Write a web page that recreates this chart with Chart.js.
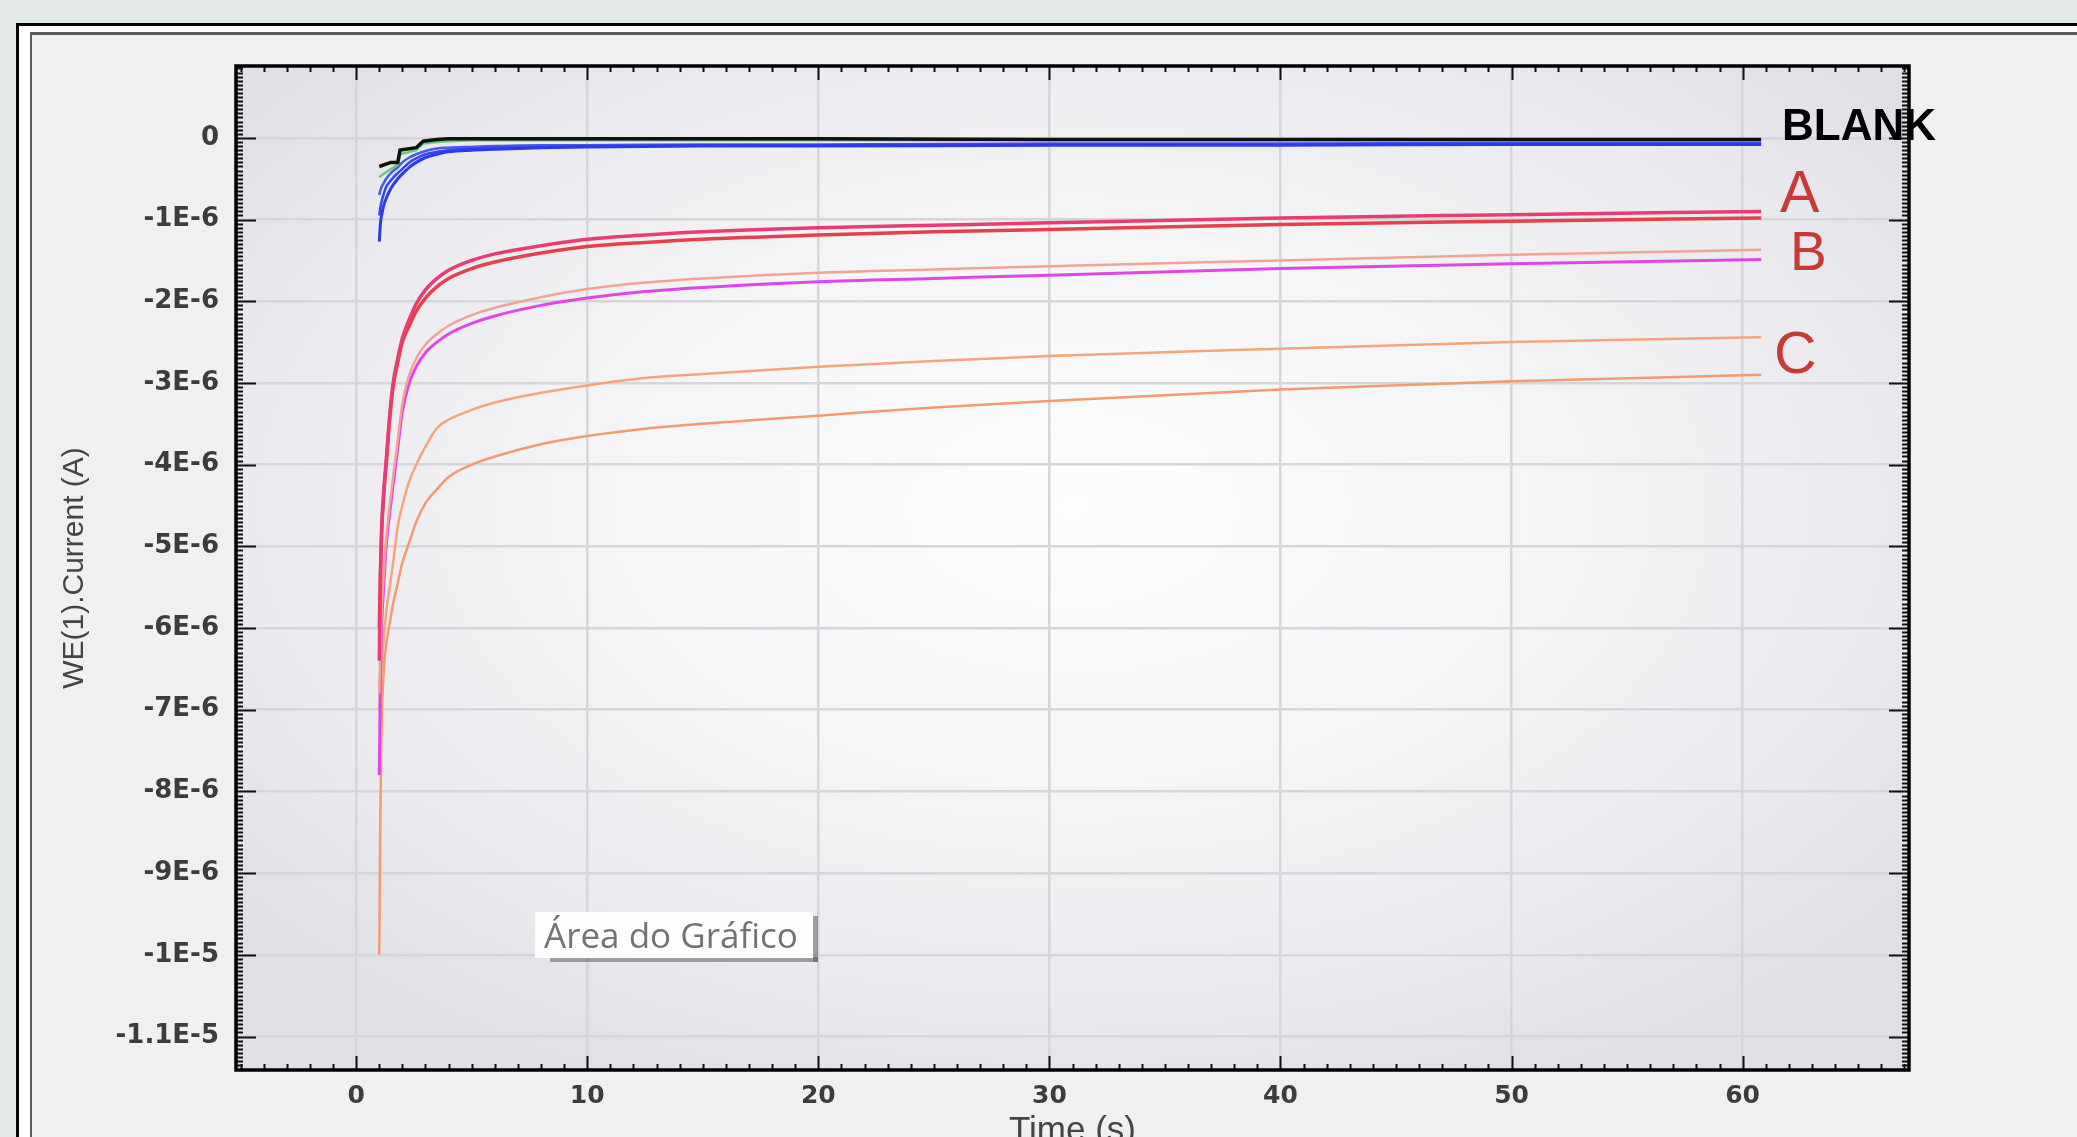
<!DOCTYPE html>
<html><head><meta charset="utf-8">
<style>
html,body{margin:0;padding:0;overflow:hidden;background:#e3e9e9;width:2077px;height:1137px}
#wrap{position:absolute;left:0;top:0;width:2077px;height:1160px}
</style>
<script src="https://cdn.jsdelivr.net/npm/chart.js@4.4.1/dist/chart.umd.min.js"></script>
</head><body><div id="wrap"><canvas id="c" width="2077" height="1160"></canvas></div>
<script>
// ---- data (current values in microamps, time in seconds) ----
const timeBlank = [1, 1.5, 1.8, 1.9, 2.6, 2.9, 3.5, 4, 5, 8, 12, 20, 30, 40, 50, 60.8];
const blankBlack = [-0.35, -0.3, -0.3, -0.15, -0.12, -0.04, -0.02, -0.01, -0.01, -0.01, -0.01, -0.01, -0.02, -0.02, -0.02, -0.02];
const blankGreen = [-0.48, -0.38, -0.33, -0.2, -0.15, -0.07, -0.05, -0.04, -0.03, -0.03, -0.03, -0.03, -0.03, -0.03, -0.03, -0.03];

const timeBlue = [1, 1.05, 1.1, 1.2, 1.3, 1.5, 1.8, 2, 2.3, 2.6, 3, 3.5, 4, 5, 6, 8, 10, 15, 20, 30, 40, 50, 60.8];
const blue1 = [-1.27, -1.05, -0.95, -0.82, -0.74, -0.62, -0.5, -0.44, -0.36, -0.3, -0.24, -0.2, -0.17, -0.15, -0.14, -0.12, -0.11, -0.1, -0.1, -0.09, -0.09, -0.08, -0.08];
const blue2 = [-0.95, -0.85, -0.78, -0.68, -0.6, -0.52, -0.43, -0.38, -0.3, -0.25, -0.2, -0.17, -0.15, -0.13, -0.12, -0.11, -0.1, -0.09, -0.09, -0.08, -0.08, -0.07, -0.07];
const blue3 = [-0.7, -0.64, -0.6, -0.55, -0.5, -0.43, -0.36, -0.3, -0.24, -0.2, -0.16, -0.13, -0.12, -0.11, -0.1, -0.09, -0.09, -0.08, -0.08, -0.07, -0.07, -0.06, -0.06];

const timeS = [1, 1.05, 1.1, 1.2, 1.3, 1.45, 1.6, 1.8, 2, 2.3, 2.6, 3, 3.5, 4, 5, 6, 8, 10, 12.5, 15, 20, 25, 30, 40, 50, 60.8];
const seriesA1 = [-6.4, -5.4, -4.8, -4.3, -3.95, -3.4, -3.0, -2.7, -2.45, -2.22, -2.03, -1.86, -1.72, -1.62, -1.5, -1.42, -1.32, -1.24, -1.19, -1.15, -1.1, -1.07, -1.04, -0.98, -0.94, -0.9];
const seriesA2 = [-6.0, -5.3, -4.85, -4.35, -4.0, -3.45, -3.05, -2.75, -2.5, -2.3, -2.12, -1.96, -1.82, -1.72, -1.6, -1.52, -1.41, -1.33, -1.28, -1.24, -1.19, -1.15, -1.12, -1.06, -1.02, -0.98];
const seriesB1 = [-6.8, -6.2, -5.8, -5.3, -4.9, -4.5, -4.15, -3.7, -3.25, -2.9, -2.7, -2.53, -2.4, -2.3, -2.17, -2.08, -1.95, -1.85, -1.77, -1.72, -1.65, -1.61, -1.57, -1.5, -1.43, -1.37];
const seriesB2 = [-7.8, -6.6, -6.0, -5.45, -5.0, -4.6, -4.25, -3.8, -3.35, -3.0, -2.8, -2.63, -2.5, -2.4, -2.27, -2.18, -2.05, -1.96, -1.88, -1.83, -1.76, -1.72, -1.68, -1.6, -1.54, -1.49];
const seriesC1 = [-7.0, -6.7, -6.45, -6.1, -5.8, -5.5, -5.2, -4.75, -4.5, -4.2, -4.0, -3.78, -3.55, -3.45, -3.33, -3.24, -3.12, -3.03, -2.94, -2.89, -2.8, -2.73, -2.67, -2.58, -2.5, -2.44];
const seriesC2 = [-10.0, -8.2, -7.2, -6.5, -6.2, -5.95, -5.7, -5.45, -5.2, -4.95, -4.7, -4.47, -4.3, -4.15, -4.0, -3.9, -3.75, -3.65, -3.56, -3.5, -3.4, -3.3, -3.22, -3.08, -2.98, -2.9];

const xTickValues = [0, 10, 20, 30, 40, 50, 60];
const xTickLabels = ['0', '10', '20', '30', '40', '50', '60'];
const yTickValues = [0, -1e-6, -2e-6, -3e-6, -4e-6, -5e-6, -6e-6, -7e-6, -8e-6, -9e-6, -1e-5, -1.1e-5];
const yTickLabels = ['0', '-1E-6', '-2E-6', '-3E-6', '-4E-6', '-5E-6', '-6E-6', '-7E-6', '-8E-6', '-9E-6', '-1E-5', '-1.1E-5'];
const groupLabels = ['BLANK', 'A', 'B', 'C'];
const xTitle = 'Time (s)';
const yTitle = 'WE(1).Current (A)';
const overlayText = 'Área do Gráfico';

// ---- helpers ----
const UA = 1e-6;
function pts(t, v) { return t.map((x, i) => ({ x: x, y: v[i] * UA })); }
function ds(t, v, color, w, smooth) {
  return { data: pts(t, v), borderColor: color, borderWidth: w, pointRadius: 0,
    fill: false, tension: 0, cubicInterpolationMode: smooth ? 'monotone' : 'default' };
}

const datasets = [
  ds(timeBlank, blankBlack, '#111111', 3.5, false),
  ds(timeBlank, blankGreen, '#62cf70', 2.5, false),
  ds(timeBlue, blue1, '#2c3ae8', 3, true),
  ds(timeBlue, blue2, '#3546ee', 2.5, true),
  ds(timeBlue, blue3, '#4558f0', 2.5, true),
  ds(timeS, seriesA1, '#e83c72', 3.5, true),
  ds(timeS, seriesA2, '#e4414c', 3.5, true),
  ds(timeS, seriesB1, '#f2a394', 2.5, true),
  ds(timeS, seriesB2, '#e046e6', 3, true),
  ds(timeS, seriesC1, '#f5a47c', 2.5, true),
  ds(timeS, seriesC2, '#f39a6e', 2.5, true)
];

const framePlugin = {
  id: 'frame',
  beforeDraw(chart) {
    const ctx = chart.ctx, W = chart.width, H = chart.height, a = chart.chartArea;
    ctx.save();
    ctx.fillStyle = '#e3e9e9'; ctx.fillRect(0, 0, W, H);
    ctx.fillStyle = '#000000'; ctx.fillRect(16, 23, W, H);
    ctx.fillStyle = '#ffffff'; ctx.fillRect(19, 26, W, H);
    ctx.fillStyle = '#5a5a5a'; ctx.fillRect(30, 32, W, H);
    ctx.fillStyle = '#f0f0f0'; ctx.fillRect(32, 35, W, H);
    // plot area background: soft radial shading
    const cx = (a.left + a.right) / 2, cy = (a.top + a.bottom) / 2 - 60;
    ctx.beginPath(); ctx.rect(a.left, a.top, a.right - a.left, a.bottom - a.top); ctx.clip();
    ctx.translate(cx, cy);
    ctx.scale((a.right - a.left) / 2, (a.bottom - a.top) / 2);
    const g = ctx.createRadialGradient(0, 0, 0, 0, 0, 1.25);
    g.addColorStop(0, '#fdfdfd');
    g.addColorStop(0.45, '#f5f5f7');
    g.addColorStop(0.8, '#e9e9ee');
    g.addColorStop(1, '#e0e0e7');
    ctx.fillStyle = g; ctx.fillRect(-2, -2, 4, 4);
    ctx.restore();
  },
  afterDraw(chart) {
    const ctx = chart.ctx, a = chart.chartArea;
    const xs = chart.scales.x, ys = chart.scales.y;
    ctx.save();
    // ticks on all four sides (inward)
    ctx.strokeStyle = '#111'; ctx.lineWidth = 2;
    ctx.beginPath();
    for (let v = -5; v <= 67; v++) {
      const px = Math.round(xs.getPixelForValue(v)) + 0.5;
      if (px < a.left + 2 || px > a.right - 2) continue;
      const major = v % 10 === 0;
      const len = major ? 14 : 6;
      ctx.moveTo(px, a.bottom); ctx.lineTo(px, a.bottom - len);
      ctx.moveTo(px, a.top); ctx.lineTo(px, a.top + len);
    }
    for (let k = -228; k <= 17; k++) {
      const v = k * 0.05 * UA;
      const py = Math.round(ys.getPixelForValue(v)) + 0.5;
      if (py < a.top + 2 || py > a.bottom - 2) continue;
      const major = k % 20 === 0;
      const len = major ? 20 : 7;
      ctx.moveTo(a.left, py); ctx.lineTo(a.left + len, py);
      ctx.moveTo(a.right, py); ctx.lineTo(a.right - len, py);
    }
    ctx.stroke();
    ctx.lineWidth = 3.5; ctx.strokeStyle = '#000';
    ctx.strokeRect(a.left, a.top, a.right - a.left, a.bottom - a.top);

    // group labels beside the line ends
    ctx.textBaseline = 'alphabetic'; ctx.textAlign = 'left';
    ctx.fillStyle = '#000';
    ctx.font = 'bold 44px "Liberation Sans", Arial, sans-serif';
    ctx.fillText(groupLabels[0], 1782, 140);
    ctx.fillStyle = '#c73a36';
    ctx.font = '59px "Liberation Sans", Arial, sans-serif';
    ctx.fillText(groupLabels[1], 1780, 212);
    ctx.font = '55px "Liberation Sans", Arial, sans-serif';
    ctx.fillText(groupLabels[2], 1790, 270);
    ctx.font = '59px "Liberation Sans", Arial, sans-serif';
    ctx.fillText(groupLabels[3], 1774, 373);

    // "Área do Gráfico" hover box
    ctx.fillStyle = 'rgba(80,80,80,0.5)';
    ctx.fillRect(550, 957, 268, 5);
    ctx.fillRect(813, 916, 5, 46);
    ctx.fillStyle = '#fdfdfd';
    ctx.fillRect(535, 912, 278, 46);
    ctx.fillStyle = '#737373';
    ctx.font = '35px "Open Sans", sans-serif';
    ctx.fillText(overlayText, 544, 948);
    ctx.restore();
  }
};

new Chart(document.getElementById('c'), {
  type: 'line',
  data: { datasets: datasets },
  plugins: [framePlugin],
  options: {
    responsive: false, animation: false, devicePixelRatio: 1,
    layout: { padding: { left: 0, top: 66, right: 168, bottom: 0 } },
    plugins: { legend: { display: false }, tooltip: { enabled: false } },
    scales: {
      x: {
        type: 'linear', min: -5.2, max: 67.2,
        afterFit(s) { s.height = 90; },
        afterBuildTicks(s) { s.ticks = xTickValues.map(v => ({ value: v })); },
        grid: { color: '#d5d5da', lineWidth: 2.5, drawTicks: false },
        border: { display: false },
        ticks: { padding: 11, color: '#3c3c3c', maxRotation: 0, autoSkip: false,
          font: { family: '"DejaVu Sans", sans-serif', size: 25, weight: 'bold' },
          callback: (v, i) => xTickLabels[i] },
        title: { display: true, text: xTitle, color: '#444',
          font: { family: '"Liberation Sans", Arial, sans-serif', size: 35 },
          padding: { top: 0, bottom: 8 } }
      },
      y: {
        type: 'linear', min: -11.41e-6, max: 0.88e-6,
        afterFit(s) { s.width = 236; },
        afterBuildTicks(s) { s.ticks = yTickValues.map(v => ({ value: v })); },
        grid: { color: '#d5d5da', lineWidth: 2.5, drawTicks: false },
        border: { display: false },
        ticks: { padding: 17, color: '#3c3c3c', autoSkip: false,
          font: { family: '"DejaVu Sans", sans-serif', size: 26, weight: 'bold' },
          callback: (v, i) => yTickLabels[i] },
        title: { display: true, text: yTitle, color: '#444',
          font: { family: '"Liberation Sans", Arial, sans-serif', size: 30 },
          padding: { top: 57, bottom: 0 } }
      }
    }
  }
});
</script></body></html>
